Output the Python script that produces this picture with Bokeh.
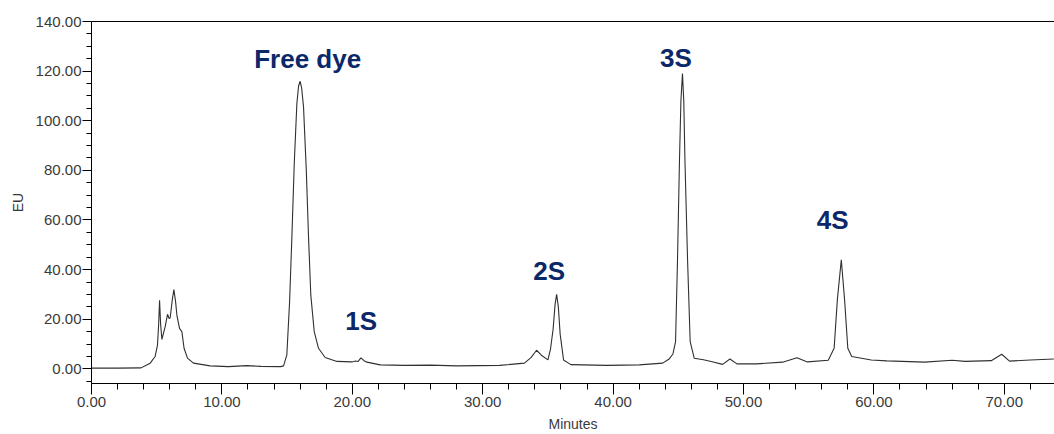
from bokeh.plotting import figure
from bokeh.models import Range1d, SingleIntervalTicker, NumeralTickFormatter, LinearAxis, FixedTicker, ColumnDataSource
from bokeh.core.properties import value
from bokeh.embed import file_html
from bokeh.resources import INLINE

# Chromatogram trace (time in minutes, response in EU)
time_min = [0.0, 2.0, 3.8, 4.2, 4.5, 4.88, 5.06, 5.15, 5.22, 5.3, 5.4, 5.65, 5.83, 5.95, 6.03,
            6.2, 6.32, 6.45, 6.55, 6.75, 6.93, 7.1, 7.36, 7.82, 9.1, 10.5, 11.9, 13.0, 14.5,
            14.73, 14.98, 15.19, 15.37, 15.55, 15.75, 15.88, 16.0, 16.12, 16.26, 16.47, 16.64,
            16.82, 17.08, 17.41, 17.92, 18.82, 19.97, 20.25, 20.45, 20.66, 20.9, 21.12, 22.14,
            24.0, 26.0, 28.0, 31.3, 33.2, 33.7, 34.13, 34.5, 35.0, 35.2, 35.4, 35.55, 35.67,
            35.8, 35.94, 36.2, 36.76, 39.5, 42.0, 43.8, 44.3, 44.59, 44.79, 44.94, 45.09, 45.2,
            45.32, 45.42, 45.51, 45.71, 45.91, 46.22, 46.93, 47.6, 48.4, 48.96, 49.5, 51.0,
            53.0, 54.1, 54.9, 56.5, 56.95, 57.2, 57.5, 57.75, 58.0, 58.3, 59.8, 61.0, 63.9,
            66.0, 67.0, 69.0, 69.8, 70.4, 72.0, 73.8]
eu = [0.3, 0.3, 0.4, 1.5, 2.3, 5.0, 9.6, 18.0, 27.6, 18.0, 11.9, 17.0, 22.0, 20.3, 20.5,
      28.0, 32.0, 27.0, 21.6, 16.3, 15.0, 8.3, 4.3, 2.3, 1.2, 0.9, 1.3, 1.0, 0.9,
      1.2, 5.6, 27.0, 53.6, 83.0, 107.0, 114.0, 115.9, 113.0, 105.6, 80.3, 53.6,
      29.6, 15.0, 8.3, 4.6, 3.0, 2.8, 3.2, 3.0, 4.4, 3.3, 2.7, 1.6,
      1.4, 1.5, 1.2, 1.4, 2.3, 4.5, 7.5, 5.5, 3.6, 8.0, 16.0, 26.0, 30.0,
      25.0, 14.0, 3.6, 1.7, 1.4, 1.6, 2.3, 4.0, 6.0, 11.0, 44.0, 84.0, 108.0,
      119.0, 108.0, 84.0, 44.0, 11.0, 4.3, 3.7, 2.9, 1.8, 4.0, 2.0, 2.0,
      2.7, 4.5, 2.8, 3.5, 8.3, 28.0, 44.0, 28.0, 8.3, 5.0, 3.6, 3.2, 2.7,
      3.5, 3.0, 3.3, 5.9, 3.1, 3.6, 4.0]

# Peak annotations
label_names = ["Free dye", "1S", "2S", "3S", "4S"]
label_time = [16.58, 20.68, 35.1, 44.82, 56.84]
label_eu = [124.7, 19.4, 39.4, 125.1, 60.0]

x_start, x_end = 0.0, 73.85
y_start, y_end = -5.9, 140.0

p = figure(width=1054, height=434, output_backend="svg", toolbar_location=None,
           x_range=Range1d(x_start, x_end), y_range=Range1d(y_start, y_end),
           min_border_left=91, min_border_right=0, min_border_top=21, min_border_bottom=48)
p.outline_line_color = None
p.grid.visible = False
p.background_fill_color = "white"

p.line(time_min, eu, line_color="#303030", line_width=1.1)

src = ColumnDataSource(dict(x=label_time, y=label_eu, t=label_names))
p.text(x="x", y="y", text="t", source=src, text_font=value("Liberation Sans"),
       text_font_style="bold", text_font_size="26px", text_color="#0b2869",
       text_align="center", text_baseline="alphabetic")

font = "Liberation Sans"
tick_color = "#3a3a3a"

xa = p.xaxis[0]
xa.ticker = SingleIntervalTicker(interval=10, num_minor_ticks=5)
xa.formatter = NumeralTickFormatter(format="0.00")
xa.axis_label = "Minutes"
xa.major_tick_in = 0
xa.major_tick_out = 11
xa.minor_tick_in = 0
xa.minor_tick_out = 6
xa.major_label_standoff = 2
xa.axis_label_standoff = 6

ya = p.yaxis[0]
ya.ticker = SingleIntervalTicker(interval=20, num_minor_ticks=4)
ya.formatter = NumeralTickFormatter(format="0.00")
ya.axis_label = "EU"
ya.major_tick_in = 0
ya.major_tick_out = 9
ya.minor_tick_in = 0
ya.minor_tick_out = 5
ya.major_label_standoff = 1
ya.axis_label_standoff = 7

for ax in (xa, ya):
    ax.axis_line_color = "black"
    ax.major_tick_line_color = "black"
    ax.minor_tick_line_color = "black"
    ax.major_label_text_font = font
    ax.major_label_text_font_size = "15px"
    ax.major_label_text_color = tick_color
    ax.axis_label_text_font = font
    ax.axis_label_text_font_size = "14px"
    ax.axis_label_text_font_style = "normal"
    ax.axis_label_text_color = tick_color

top = LinearAxis(ticker=FixedTicker(ticks=[]), axis_line_color="black",
                 major_tick_out=0, major_tick_in=0, minor_tick_out=0, minor_tick_in=0)
p.add_layout(top, "above")

open("out.html", "w").write(file_html(p, INLINE))
